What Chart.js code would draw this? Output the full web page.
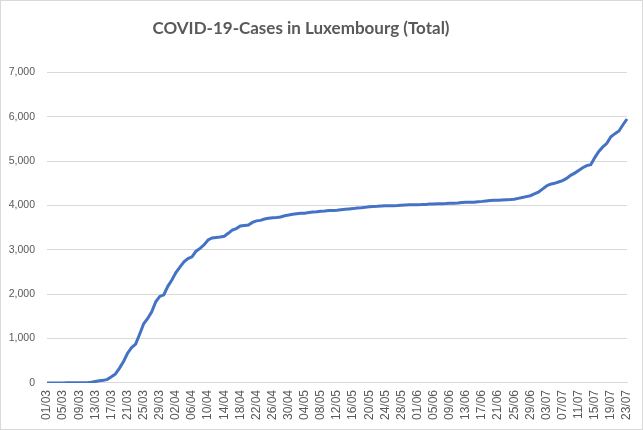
<!DOCTYPE html>
<html>
<head>
<meta charset="utf-8">
<title>COVID-19-Cases in Luxembourg (Total)</title>
<script src="https://cdn.jsdelivr.net/npm/chart.js@4/dist/chart.umd.min.js"></script>
<style>
    html, body { margin: 0; padding: 0; background: #fff; }
    #wrap { width: 641px; height: 428px; border: 1px solid #d9d9d9; }
</style>
</head>
<body>
<div id="wrap"><canvas id="casesChart" width="641" height="428"></canvas></div>
<script>
    // cumulative cases per day
    const marchCases = [1, 1, 1, 1, 2, 3, 4, 5, 5, 7, 7, 19, 34, 51, 59, 81, 140, 203, 335, 484,
        670, 798, 875, 1099, 1333, 1453, 1605, 1831, 1950, 1988, 2178];
    const aprilCases = [2319, 2487, 2612, 2729, 2804, 2843, 2970, 3034, 3115, 3223, 3270, 3281, 3292,
        3307, 3373, 3444, 3480, 3537, 3550, 3558, 3618, 3654, 3665, 3695, 3711, 3723, 3729, 3741, 3769, 3784];
    const mayCases = [3802, 3812, 3824, 3828, 3840, 3851, 3859, 3871, 3877, 3886, 3888, 3894, 3904,
        3915, 3923, 3930, 3945, 3947, 3958, 3971, 3980, 3981, 3990, 3993, 3993, 3995, 4000, 4008, 4012, 4016, 4018];
    const juneCases = [4019, 4020, 4024, 4032, 4035, 4040, 4040, 4043, 4049, 4052, 4055, 4065, 4072,
        4072, 4075, 4085, 4093, 4104, 4112, 4116, 4120, 4125, 4130, 4133, 4140, 4160, 4180, 4200, 4220, 4260];
    const julyCases = [4300, 4370, 4440, 4480, 4500, 4530, 4560, 4610, 4680, 4730, 4790, 4850, 4900,
        4920, 5080, 5220, 5320, 5400, 5550, 5620, 5680, 5820, 5950];

    const monthNumbers = ['03', '04', '05', '06', '07'];
    const monthSeries = [marchCases, aprilCases, mayCases, juneCases, julyCases];
    const yTicks = [0, 1000, 2000, 3000, 4000, 5000, 6000, 7000];

    // dd/mm labels, one per day
    const dayLabels = [];
    const totalCases = [];
    monthSeries.forEach((values, m) => {
        values.forEach((v, d) => {
            dayLabels.push(String(d + 1).padStart(2, '0') + '/' + monthNumbers[m]);
            totalCases.push(v);
        });
    });

    const textColor = '#595959';
    const gridColor = '#d9d9d9';

    // the title sits a bit left of the canvas centre
    const shiftTitle = {
        id: 'shiftTitle',
        afterLayout(chart) {
            if (chart.titleBlock) chart.titleBlock.right -= 34;
        }
    };

    new Chart(document.getElementById('casesChart').getContext('2d'), {
        type: 'line',
        data: {
            labels: dayLabels,
            datasets: [{
                label: 'Total',
                data: totalCases,
                borderColor: '#4472c4',
                borderWidth: 3,
                pointRadius: 0,
                tension: 0,
                fill: false
            }]
        },
        plugins: [shiftTitle],
        options: {
            responsive: false,
            animation: false,
            layout: { padding: { left: 8, right: 15, top: 8, bottom: 2 } },
            plugins: {
                legend: { display: false },
                tooltip: { enabled: false },
                title: {
                    display: true,
                    text: 'COVID-19-Cases in Luxembourg (Total)',
                    color: textColor,
                    font: { family: 'Lato', size: 17, weight: 'bold' },
                    padding: { top: 9, bottom: 34 }
                }
            },
            scales: {
                x: {
                    offset: false,
                    grid: { display: false, drawTicks: false },
                    border: { display: true, color: gridColor },
                    afterFit: function(axis) {
                        // no extra room for the rotated end labels
                        axis.paddingLeft = 0;
                        axis.paddingRight = 0;
                    },
                    ticks: {
                        autoSkip: false,
                        minRotation: 90,
                        maxRotation: 90,
                        padding: 7,
                        color: textColor,
                        font: { family: 'Liberation Sans', size: 12 },
                        callback: function(value, index) {
                            return index % 4 === 0 ? dayLabels[index] : null;
                        }
                    }
                },
                y: {
                    min: yTicks[0],
                    max: yTicks[yTicks.length - 1],
                    afterBuildTicks: function(axis) {
                        axis.ticks = yTicks.map(v => ({ value: v }));
                    },
                    afterFit: function(axis) {
                        axis.width = 38;
                    },
                    grid: { color: gridColor, drawTicks: false },
                    border: { display: false },
                    ticks: {
                        padding: 12,
                        color: textColor,
                        font: { family: 'Liberation Sans', size: 10.5 },
                        callback: v => v.toLocaleString('en-US')
                    }
                }
            }
        }
    });
</script>
</body>
</html>
